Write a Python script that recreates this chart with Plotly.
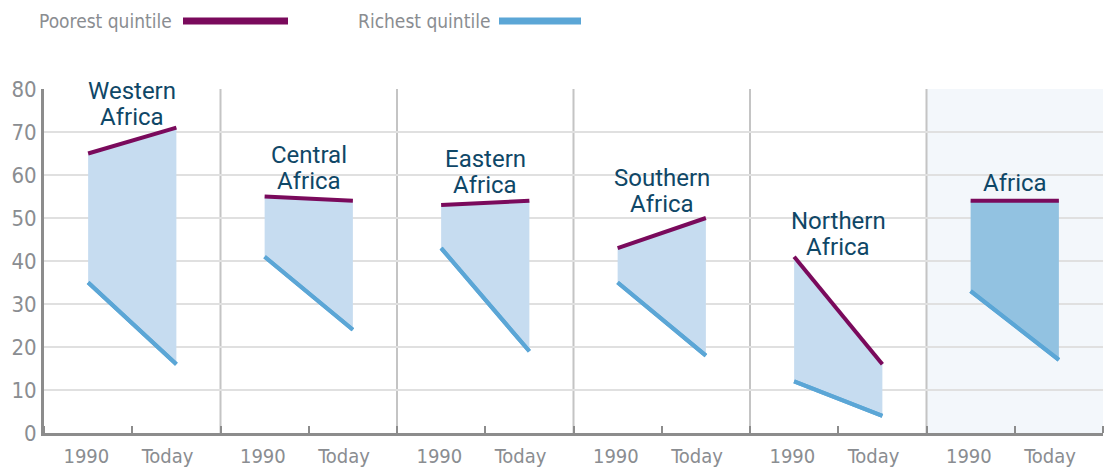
import plotly.graph_objects as go

regions = ["Western<br>Africa", "Central<br>Africa", "Eastern<br>Africa",
           "Southern<br>Africa", "Northern<br>Africa", "Africa"]
periods = ["1990", "Today"]
poorest_1990 = [65, 55, 53, 43, 41, 54]
poorest_today = [71, 54, 54, 50, 16, 54]
richest_1990 = [35, 41, 43, 35, 12, 33]
richest_today = [16, 24, 19, 18, 4, 17]
y_ticks = [0, 10, 20, 30, 40, 50, 60, 70, 80]

# layout helpers (label anchor heights, in axis units)
label_y = [73.5, 58.6, 57.7, 53.3, 43.3, 58.1]

POOR = "#7a0a5c"
RICH = "#5ba6d6"
FILL = "rgba(198,220,240,1)"
FILL_TOTAL = "rgba(146,194,225,1)"
GREY_TXT = "#8a8d91"
LABEL_CLR = "#0f4767"
TICK_FONT = "DejaVu Sans Condensed, Roboto, sans-serif"
LABEL_FONT = "Roboto, sans-serif"

OFF = 8  # page body margin
W, H = 1117 - OFF, 470 - OFF
L, R, T, B = 44 - OFF, 14, 89 - OFF, 37
n = len(regions)

fig = go.Figure()

# Africa panel background
fig.add_shape(type="rect", x0=2 * (n - 1), x1=2 * n, y0=0, y1=80,
              fillcolor="#f3f7fb", line_width=0, layer="below")

for i in range(n):
    xs = [2 * i + 0.5, 2 * i + 1.5]
    fill = FILL_TOTAL if i == n - 1 else FILL
    fig.add_trace(go.Scatter(x=xs, y=[richest_1990[i], richest_today[i]],
                             mode="lines", line=dict(color=RICH, width=4),
                             showlegend=False, hoverinfo="skip"))
    fig.add_trace(go.Scatter(x=xs, y=[poorest_1990[i], poorest_today[i]],
                             mode="lines", line=dict(color=POOR, width=4),
                             fill="tonexty", fillcolor=fill,
                             showlegend=False, hoverinfo="skip"))
    # redraw richest on top of fill
    fig.add_trace(go.Scatter(x=xs, y=[richest_1990[i], richest_today[i]],
                             mode="lines", line=dict(color=RICH, width=4),
                             showlegend=False, hoverinfo="skip"))
    # region label
    lines = regions[i].split("<br>")
    for j, txt in enumerate(reversed(lines)):
        fig.add_annotation(x=2 * i + 1, y=label_y[i], text=txt, showarrow=False,
                           yanchor="middle", xanchor="center", yshift=26 * j,
                           font=dict(family=LABEL_FONT, size=24, color=LABEL_CLR))

# panel separators
for i in range(1, n):
    fig.add_shape(type="line", x0=2 * i, x1=2 * i, y0=0, y1=80,
                  line=dict(color="#c4c4c4", width=2), layer="below")

# x tick labels
tickvals, ticktext = [], []
for i in range(n):
    tickvals += [2 * i + 0.48, 2 * i + 1.40]
    ticktext += periods

fig.update_xaxes(range=[0, 2 * n], tickvals=tickvals, ticktext=ticktext,
                 showgrid=False, zeroline=False, showline=True,
                 linecolor="#8c8c8c", linewidth=3, ticks="", automargin=False,
                 ticklabelstandoff=3,
                 tickfont=dict(family=TICK_FONT, size=20, color=GREY_TXT),
                 minor=dict(ticks="inside", dtick=1, tick0=0, ticklen=7,
                            tickwidth=2, tickcolor="#8c8c8c", showgrid=False))
fig.update_yaxes(range=[0, 80], tickvals=y_ticks, showgrid=True,
                 gridcolor="#e0e0e0", gridwidth=2, zeroline=False,
                 showline=True, linecolor="#8c8c8c", linewidth=3, ticks="",
                 ticklabelstandoff=0, automargin=False,
                 tickfont=dict(family=TICK_FONT, size=22, color=GREY_TXT))


def px(xp):
    return (xp - OFF - L) / (W - L - R)


def py(yp):
    return (H - B - (yp - OFF)) / (H - T - B)


# legend
legend_items = [("Poorest quintile", POOR, 174, 183, 288),
                ("Richest quintile", RICH, 492, 499, 581)]
for name, clr, tx, lx0, lx1 in legend_items:
    fig.add_annotation(x=px(tx), y=py(21), xref="paper", yref="paper",
                       text=name, showarrow=False, xanchor="right",
                       yanchor="middle",
                       font=dict(family=TICK_FONT, size=19, color=GREY_TXT))
    fig.add_shape(type="line", xref="paper", yref="paper",
                  x0=px(lx0), x1=px(lx1), y0=py(21), y1=py(21),
                  line=dict(color=clr, width=7))

fig.update_layout(width=W, height=H, margin=dict(l=L, r=R, t=T, b=B),
                  plot_bgcolor="white", paper_bgcolor="white",
                  showlegend=False)

fig.write_html("out.html")
